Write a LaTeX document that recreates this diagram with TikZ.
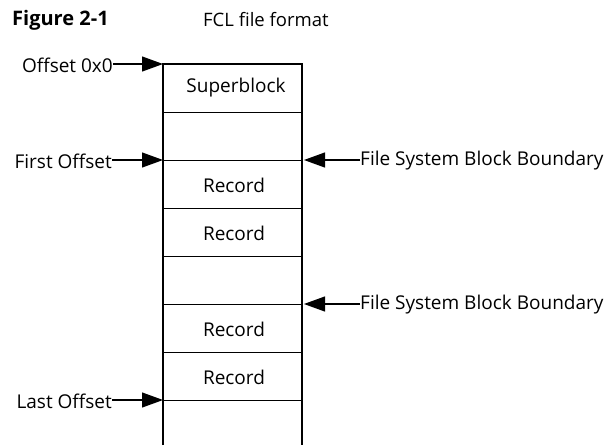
\documentclass[tikz,border=0pt]{standalone}
\usepackage{fontspec}
\setmainfont{Open Sans}
\usetikzlibrary{arrows.meta}
\begin{document}
\begin{tikzpicture}[x=1pt,y=-1pt,
  lbl/.style={font=\fontsize{19}{21}\selectfont, inner sep=0pt},
  cell/.style={font=\fontsize{19}{21}\selectfont, inner sep=0pt},
  sep/.style={line width=0.9pt},
  side/.style={line width=1.5pt},
  ptr/.style={line width=1.1pt, -{Triangle[length=21pt,width=15pt]}}]
\useasboundingbox (0,0) rectangle (610,445);
% title
\node[anchor=west, inner sep=0pt, font=\fontsize{20}{22}\selectfont\bfseries] (fig) at (12,20) {Figure 2-1};
\node[anchor=west, inner sep=0pt, font=\fontsize{18.5}{20}\selectfont] (title) at (203,20) {FCL file format};
% box
\coordinate (tl) at (163,64);
\coordinate (tr) at (302,64);
\coordinate (bl) at (163,445);
\coordinate (br) at (302,445);
\draw[side] (bl) -- (tl) -- (tr) -- (br);
\foreach \y in {112,160,208,256,304,352,400}{
  \draw[sep] (163,\y) -- (302,\y);
}
% cells
\node[cell] (sb) at (236,88) {Superblock};
\node[cell] (r1) at (234,185) {Record};
\node[cell] (r2) at (234,233) {Record};
\node[cell] (r3) at (234,329) {Record};
\node[cell] (r4) at (234,377) {Record};
% left pointers
\node[lbl, anchor=east] (off0) at (113,65) {Offset 0x0};
\node[lbl, anchor=east] (first) at (112,161) {First Offset};
\node[lbl, anchor=east] (last) at (112,401) {Last Offset};
\coordinate (p0) at (163,64);
\coordinate (p1) at (163,160);
\coordinate (p2) at (163,400);
\draw[ptr] (off0.east |- p0) -- (p0);
\draw[ptr] (first.east |- p1) -- (p1);
\draw[ptr] (last.east |- p2) -- (p2);
% right pointers
\node[lbl, anchor=west] (fsb1) at (360,161) {File System Block Boundary};
\node[lbl, anchor=west] (fsb2) at (360,305) {File System Block Boundary};
\coordinate (q1) at (304,160);
\coordinate (q2) at (304,304);
\draw[ptr] (fsb1.west |- q1) -- (q1);
\draw[ptr] (fsb2.west |- q2) -- (q2);
\end{tikzpicture}
\end{document}
